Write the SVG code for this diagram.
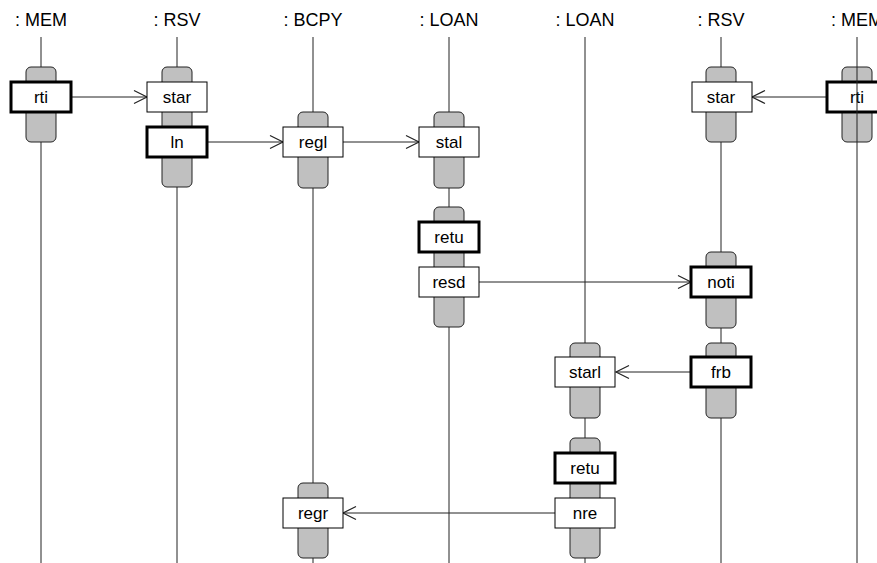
<svg xmlns="http://www.w3.org/2000/svg" width="877" height="563" viewBox="0 0 877 563">
<style>
.hd{font-family:"Liberation Sans",Arial,sans-serif;font-size:18px;fill:#000;text-anchor:middle}
.lb{font-family:"Liberation Sans",Arial,sans-serif;font-size:17px;fill:#000;text-anchor:middle}
.ll{stroke:#222;stroke-width:1;fill:none}
.act{fill:#c0c0c0;stroke:#222;stroke-width:1}
.box{fill:#fff;stroke:#000;stroke-width:1}
.thk{fill:#fff;stroke:#000;stroke-width:3}
.msg{stroke:#222;stroke-width:1;fill:none;marker-end:url(#open)}
</style>
<defs>
<marker id="open" markerWidth="16" markerHeight="16" refX="14" refY="8" orient="auto" markerUnits="userSpaceOnUse">
<path d="M1,1.5 L14,8 L1,14.5" fill="none" stroke="#222" stroke-width="1.2"/>
</marker>
</defs>
<rect width="877" height="563" fill="#fff"/>
<g id="lifelines">
<g id="mem1"><text class="hd" x="41" y="26">: MEM</text><line class="ll" x1="41" y1="37" x2="41" y2="563"/></g>
<g id="rsv1"><text class="hd" x="177" y="26">: RSV</text><line class="ll" x1="177" y1="37" x2="177" y2="563"/></g>
<g id="bcpy"><text class="hd" x="313" y="26">: BCPY</text><line class="ll" x1="313" y1="37" x2="313" y2="563"/></g>
<g id="loan1"><text class="hd" x="449" y="26">: LOAN</text><line class="ll" x1="449" y1="37" x2="449" y2="563"/></g>
<g id="loan2"><text class="hd" x="585" y="26">: LOAN</text><line class="ll" x1="585" y1="37" x2="585" y2="563"/></g>
<g id="rsv2"><text class="hd" x="721" y="26">: RSV</text><line class="ll" x1="721" y1="37" x2="721" y2="563"/></g>
<g id="mem2hd"><text class="hd" x="857" y="26">: MEM</text></g>
</g>
<g id="activations">
<rect class="act" x="26" y="67" width="30" height="75" rx="5"/>
<rect class="act" x="162" y="67" width="30" height="120" rx="5"/>
<rect class="act" x="298" y="112" width="30" height="76" rx="5"/>
<rect class="act" x="434" y="112" width="30" height="76" rx="5"/>
<rect class="act" x="434" y="207" width="30" height="120" rx="5"/>
<rect class="act" x="706" y="67" width="30" height="75" rx="5"/>
<rect class="act" x="706" y="252" width="30" height="76" rx="5"/>
<rect class="act" x="570" y="343" width="30" height="75" rx="5"/>
<rect class="act" x="706" y="343" width="30" height="75" rx="5"/>
<rect class="act" x="570" y="438" width="30" height="120" rx="5"/>
<rect class="act" x="298" y="483" width="30" height="75" rx="5"/>
<rect class="act" x="842" y="67" width="30" height="75" rx="5"/>
</g>
<g id="connectors">
<line class="msg" x1="71" y1="97" x2="147" y2="97"/>
<line class="msg" x1="207" y1="142" x2="283" y2="142"/>
<line class="msg" x1="343" y1="142" x2="419" y2="142"/>
<line class="msg" x1="479" y1="282" x2="691" y2="282"/>
<line class="msg" x1="827" y1="97" x2="752" y2="97"/>
<line class="msg" x1="691" y1="372" x2="616" y2="372"/>
<line class="msg" x1="555" y1="513" x2="343" y2="513"/>
</g>
<g id="n-rti1"><rect class="thk" x="11" y="82" width="60" height="30"/><text class="lb" x="41" y="103">rti</text></g>
<g id="n-star1"><rect class="box" x="147" y="82" width="60" height="30"/><text class="lb" x="177" y="103">star</text></g>
<g id="n-ln"><rect class="thk" x="147" y="127" width="60" height="30"/><text class="lb" x="177" y="148">ln</text></g>
<g id="n-regl"><rect class="box" x="283" y="127" width="60" height="30"/><text class="lb" x="313" y="148">regl</text></g>
<g id="n-stal"><rect class="box" x="419" y="127" width="60" height="30"/><text class="lb" x="449" y="148">stal</text></g>
<g id="n-retu1"><rect class="thk" x="419" y="222" width="60" height="30"/><text class="lb" x="449" y="243">retu</text></g>
<g id="n-resd"><rect class="box" x="419" y="267" width="60" height="30"/><text class="lb" x="449" y="288">resd</text></g>
<g id="n-star2"><rect class="box" x="692" y="82" width="60" height="30"/><text class="lb" x="721" y="103">star</text></g>
<g id="n-noti"><rect class="thk" x="691" y="267" width="60" height="30"/><text class="lb" x="721" y="288">noti</text></g>
<g id="n-starl"><rect class="box" x="555" y="357" width="60" height="30"/><text class="lb" x="585" y="378">starl</text></g>
<g id="n-frb"><rect class="thk" x="691" y="357" width="60" height="30"/><text class="lb" x="721" y="378">frb</text></g>
<g id="n-retu2"><rect class="thk" x="555" y="453" width="60" height="30"/><text class="lb" x="585" y="474">retu</text></g>
<g id="n-nre"><rect class="box" x="555" y="498" width="60" height="30"/><text class="lb" x="585" y="519">nre</text></g>
<g id="n-regr"><rect class="box" x="283" y="498" width="60" height="30"/><text class="lb" x="313" y="519">regr</text></g>
<g id="n-rti2"><rect class="thk" x="827" y="82" width="60" height="30"/><text class="lb" x="857" y="103">rti</text></g>
<g id="mem2"><line class="ll" x1="857" y1="37" x2="857" y2="563"/></g>
</svg>
